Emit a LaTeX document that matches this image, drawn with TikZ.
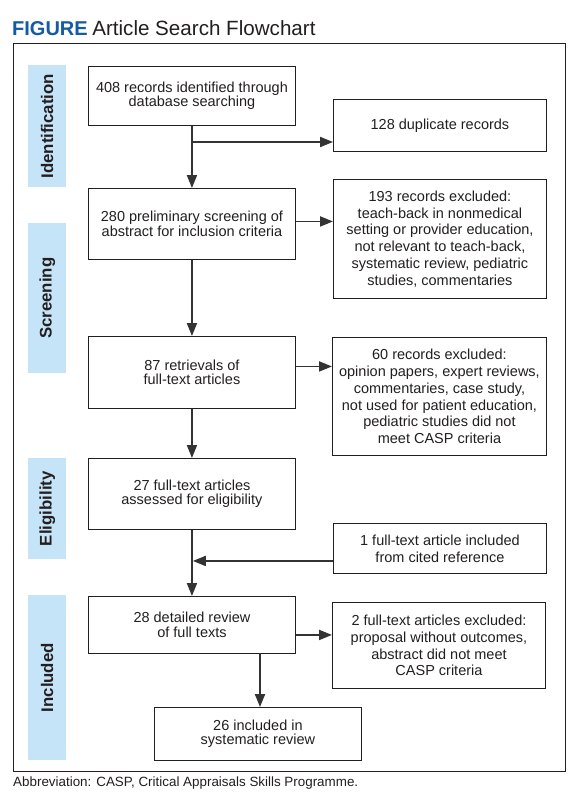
\documentclass[tikz,border=0pt]{standalone}
\usepackage{fontspec}
\setmainfont{Liberation Sans}
\usetikzlibrary{arrows.meta}
\definecolor{figblue}{RGB}{20,90,165}
\definecolor{lblue}{RGB}{198,228,247}
\definecolor{ink}{RGB}{35,31,32}
\definecolor{arr}{RGB}{51,51,51}
\begin{document}
\begin{tikzpicture}[x=1pt,y=-1pt,
  box/.style={draw=ink, line width=0.9pt, anchor=north west, align=center, inner sep=0pt, text=ink, font=\fontsize{14.5}{14.5}\selectfont},
  rbox/.style={box, font=\fontsize{14.5}{16.8}\selectfont},
  stage/.style={fill=lblue, anchor=north west, inner sep=0pt, minimum width=38pt},
  stagetxt/.style={rotate=90, inner sep=0pt, font=\fontsize{16.8}{18}\selectfont\bfseries, text=ink},
  flow/.style={draw=arr, line width=1.9pt, -{Triangle[length=13pt,width=10pt]}},
  plain/.style={draw=arr, line width=1.9pt}
]
\useasboundingbox (0,0) rectangle (577,797);
\fill[white] (0,0) rectangle (577,797);

% title
\node[anchor=base west, inner sep=0pt, text=ink, font=\fontsize{20}{22}\selectfont] (title) at (12,36)
  {\textcolor{figblue}{\bfseries FIGURE}\hspace{-1pt} \fontsize{20.6}{22}\selectfont Article Search Flowchart};

% frame
\draw[ink, line width=0.9pt] (13,43) rectangle (565,771);

% stage labels
\node[stage, minimum height=122pt] (s1) at (28,65) {};
\node[stagetxt] at (s1.center) {Identification};
\node[stage, minimum height=150pt] (s2) at (28,223) {};
\node[stagetxt] at (s2.center) {Screening};
\node[stage, minimum height=101pt] (s3) at (28,458) {};
\node[stagetxt] at (s3.center) {Eligibility};
\node[stage, minimum height=165pt] (s4) at (28,595) {};
\node[stagetxt] at (s4.center) {Included};

% left column
\node[box, minimum width=207pt, minimum height=59pt] (A) at (88,66)
  {408 records identified through\\database searching};
\node[box, minimum width=207pt, minimum height=71pt] (B) at (88,188)
  {280 preliminary screening of\\abstract for inclusion criteria};
\node[box, minimum width=207pt, minimum height=72pt] (C) at (88,336)
  {87 retrievals of\\full-text articles};
\node[box, minimum width=207pt, minimum height=71pt] (D) at (88,458)
  {27 full-text articles\\assessed for eligibility};
\node[box, minimum width=207pt, minimum height=57pt] (E) at (88,596)
  {28 detailed review\\of full texts};
\node[box, minimum width=207pt, minimum height=53pt] (F) at (154,707)
  {26 included in\\systematic review};

% right column
\node[rbox, minimum width=213pt, minimum height=52pt] (G) at (333,99)
  {128 duplicate records};
\node[rbox, minimum width=213pt, minimum height=119pt] (H) at (333,179)
  {193 records excluded:\\teach-back in nonmedical\\setting or provider education,\\not relevant to teach-back,\\systematic review, pediatric\\studies, commentaries};
\node[rbox, minimum width=214pt, minimum height=118pt] (I) at (332,337)
  {60 records excluded:\\opinion papers, expert reviews,\\commentaries, case study,\\not used for patient education,\\pediatric studies did not\\meet CASP criteria};
\node[rbox, minimum width=213pt, minimum height=50pt] (J) at (333,523)
  {1 full-text article included\\from cited reference};
\node[rbox, minimum width=213pt, minimum height=86pt] (K) at (332,602)
  {2 full-text articles excluded:\\proposal without outcomes,\\abstract did not meet\\CASP criteria};

% connectors
\draw[flow] (A.south) -- (B.north);
\coordinate (j1) at (191.5,142);
\draw[flow] (j1) -- (j1 -| G.west);
\draw[flow] ([yshift=2.5pt]B.east) -- ([yshift=2.5pt]B.east -| H.west);
\draw[flow] (B.south) -- (C.north);
\draw[flow] ([yshift=6pt]C.east) -- ([yshift=6pt]C.east -| I.west);
\draw[flow] (C.south) -- (D.north);
\draw[flow] (D.south) -- (E.north);
\coordinate (j2) at ([yshift=-12.5pt]J.west);
\draw[flow, shorten >=0.9pt] (j2) -- (j2 -| D.south);
\draw[flow] ([yshift=-10pt]E.east) -- ([yshift=-10pt]E.east -| K.west);
\coordinate (j3) at (260,653);
\draw[flow] (j3) -- (j3 |- F.north);

% footnote
\node[anchor=base west, inner sep=0pt, text=ink, font=\fontsize{13.4}{15}\selectfont] (abbr) at (13,786)
  {Abbreviation: CASP, Critical Appraisals Skills Programme.};
\end{tikzpicture}
\end{document}
